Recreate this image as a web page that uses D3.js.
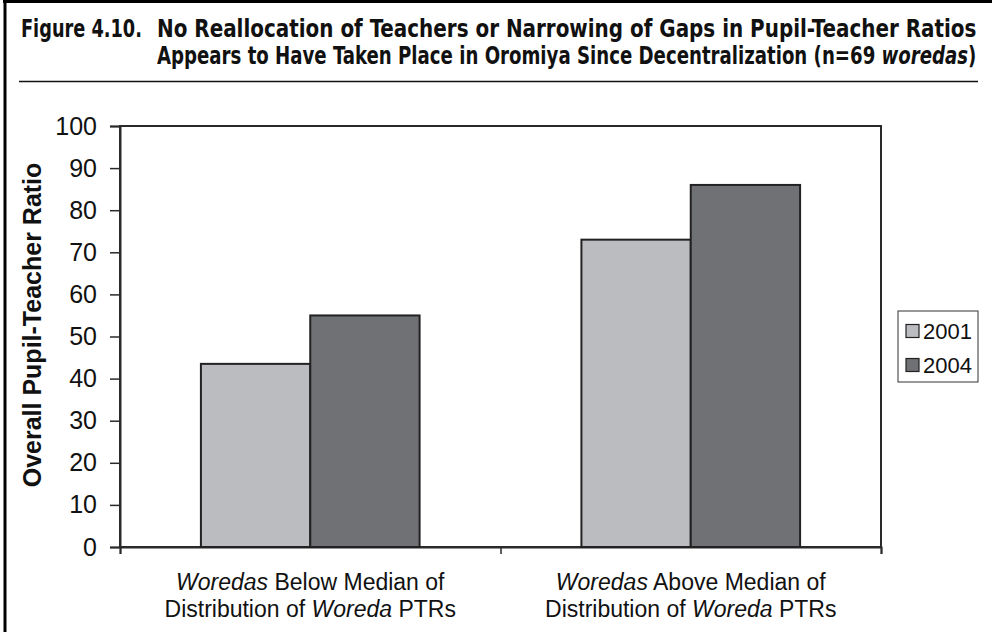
<!DOCTYPE html>
<html>
<head>
<meta charset="utf-8">
<script src="https://cdn.jsdelivr.net/npm/d3@7"></script>
<style>
  body { margin: 0; background: #fff; }
  svg { display: block; }
</style>
</head>
<body>
<svg width="992" height="632"></svg>
<script>
// data
const categories = ['below', 'above'];
const categoryLabels = [
  [['Woredas', true], [' Below Median of', false], ['Distribution of ', false], ['Woreda', true], [' PTRs', false]],
  [['Woredas', true], [' Above Median of', false], ['Distribution of ', false], ['Woreda', true], [' PTRs', false]]
];
const series = ['2001', '2004'];
const values2001 = [43.5, 73];
const values2004 = [55, 86];
const yTicks = [0, 10, 20, 30, 40, 50, 60, 70, 80, 90, 100];
const colors = ['#bbbcc0', '#707174'];

const svg = d3.select('svg');
const font = 'Liberation Sans, Arial, sans-serif';
const titleFont = '"Liberation Sans Narrow", "DejaVu Sans Condensed", sans-serif';

// outer frame (top + left only)
svg.append('line').attr('x1', 3).attr('x2', 992).attr('y1', 1.5).attr('y2', 1.5)
  .attr('stroke', '#000').attr('stroke-width', 3);
svg.append('line').attr('x1', 5).attr('x2', 5).attr('y1', 0).attr('y2', 632)
  .attr('stroke', '#000').attr('stroke-width', 3);

// title: draw each line, then squeeze/stretch it to the width in the figure
function fitLine(x, y, w, parts) {
  const g = svg.append('g');
  const t = g.append('text').attr('x', 0).attr('y', 0)
    .attr('font-family', titleFont).attr('font-weight', 'bold')
    .attr('font-size', 25).attr('fill', '#111');
  parts.forEach(p => t.append('tspan').attr('font-style', p[1] ? 'italic' : 'normal').text(p[0]));
  const len = t.node().getComputedTextLength();
  g.attr('transform', `translate(${x},${y}) scale(${w / len},1)`);
}
fitLine(21, 37, 121, [['Figure 4.10.', false]]);
fitLine(157, 37, 820, [['No Reallocation of Teachers or Narrowing of Gaps in Pupil-Teacher Ratios', false]]);
fitLine(157, 64, 820, [['Appears to Have Taken Place in Oromiya Since Decentralization (n=69 ', false],
  ['woredas', true], [')', false]]);
svg.append('line').attr('x1', 19).attr('x2', 978).attr('y1', 81.5).attr('y2', 81.5)
  .attr('stroke', '#111').attr('stroke-width', 1.5);

// scales
const plotL = 120, plotR = 881, plotT = 126, plotB = 547;
const yScale = d3.scaleLinear().domain([0, 100]).range([plotB, plotT]);
const x0 = d3.scaleBand().domain(categories).range([plotL, plotR]).padding(0);
const x1 = d3.scaleBand().domain(series).range([0, x0.bandwidth()])
  .paddingInner(0).paddingOuter(0.74);

// plot frame
svg.append('rect').attr('x', plotL).attr('y', plotT).attr('width', plotR - plotL)
  .attr('height', plotB - plotT).attr('fill', 'none').attr('stroke', '#2a2a2a').attr('stroke-width', 2);

// y axis
const yAxis = svg.append('g').attr('transform', `translate(${plotL},0)`)
  .call(d3.axisLeft(yScale).tickValues(yTicks).tickSize(10).tickPadding(13));
yAxis.select('.domain').attr('stroke', '#2a2a2a').attr('stroke-width', 2);
yAxis.selectAll('.tick line').attr('stroke', '#2a2a2a').attr('stroke-width', 1.5);
yAxis.selectAll('.tick text').attr('font-family', font).attr('font-size', 25).attr('fill', '#111');

// x axis tick marks at category boundaries
const xAxis = svg.append('g').attr('transform', `translate(0,${plotB})`)
  .call(d3.axisBottom(d3.scaleLinear().domain([0, categories.length]).range([plotL, plotR]))
    .tickValues(d3.range(categories.length + 1)).tickSize(7).tickFormat(''));
xAxis.select('.domain').attr('stroke', '#2a2a2a').attr('stroke-width', 2);
xAxis.selectAll('.tick line').attr('stroke', '#2a2a2a').attr('stroke-width', 1.5);

// bars
const rows = categories.map((c, i) => ({ cat: c, vals: [values2001[i], values2004[i]] }));
const groups = svg.selectAll('.grp').data(rows).enter().append('g')
  .attr('transform', d => `translate(${x0(d.cat)},0)`);
groups.selectAll('rect')
  .data(d => d.vals.map((v, j) => ({ s: series[j], v: v, c: colors[j] })))
  .enter().append('rect')
  .attr('x', d => x1(d.s))
  .attr('y', d => yScale(d.v))
  .attr('width', x1.bandwidth())
  .attr('height', d => plotB - yScale(d.v))
  .attr('fill', d => d.c)
  .attr('stroke', '#222').attr('stroke-width', 2);

// category labels
categories.forEach((c, i) => {
  const cx = x0(c) + x0.bandwidth() / 2;
  const parts = categoryLabels[i];
  const l1 = svg.append('text').attr('x', cx).attr('y', 590).attr('text-anchor', 'middle')
    .attr('font-family', font).attr('font-size', 23).attr('fill', '#111');
  parts.slice(0, 2).forEach(p => l1.append('tspan').attr('font-style', p[1] ? 'italic' : 'normal').text(p[0]));
  const l2 = svg.append('text').attr('x', cx).attr('y', 617).attr('text-anchor', 'middle')
    .attr('font-family', font).attr('font-size', 23).attr('fill', '#111');
  parts.slice(2).forEach(p => l2.append('tspan').attr('font-style', p[1] ? 'italic' : 'normal').text(p[0]));
});

// y axis title
svg.append('text').attr('transform', 'translate(41,325) rotate(-90)')
  .attr('text-anchor', 'middle').attr('font-family', font).attr('font-weight', 'bold')
  .attr('font-size', 25).attr('fill', '#111').text('Overall Pupil-Teacher Ratio');

// legend
const legend = svg.append('g').attr('transform', 'translate(898,311)');
legend.append('rect').attr('width', 80).attr('height', 71).attr('fill', '#fff')
  .attr('stroke', '#333').attr('stroke-width', 1);
series.forEach((s, i) => {
  const g = legend.append('g').attr('transform', `translate(8,${20 + i * 34})`);
  g.append('rect').attr('x', 0).attr('y', -6.5).attr('width', 13).attr('height', 13)
    .attr('fill', colors[i]).attr('stroke', '#222').attr('stroke-width', 1.2);
  g.append('text').attr('x', 17).attr('y', 8).attr('font-family', font)
    .attr('font-size', 22).attr('fill', '#111').text(s);
});
</script>
</body>
</html>
